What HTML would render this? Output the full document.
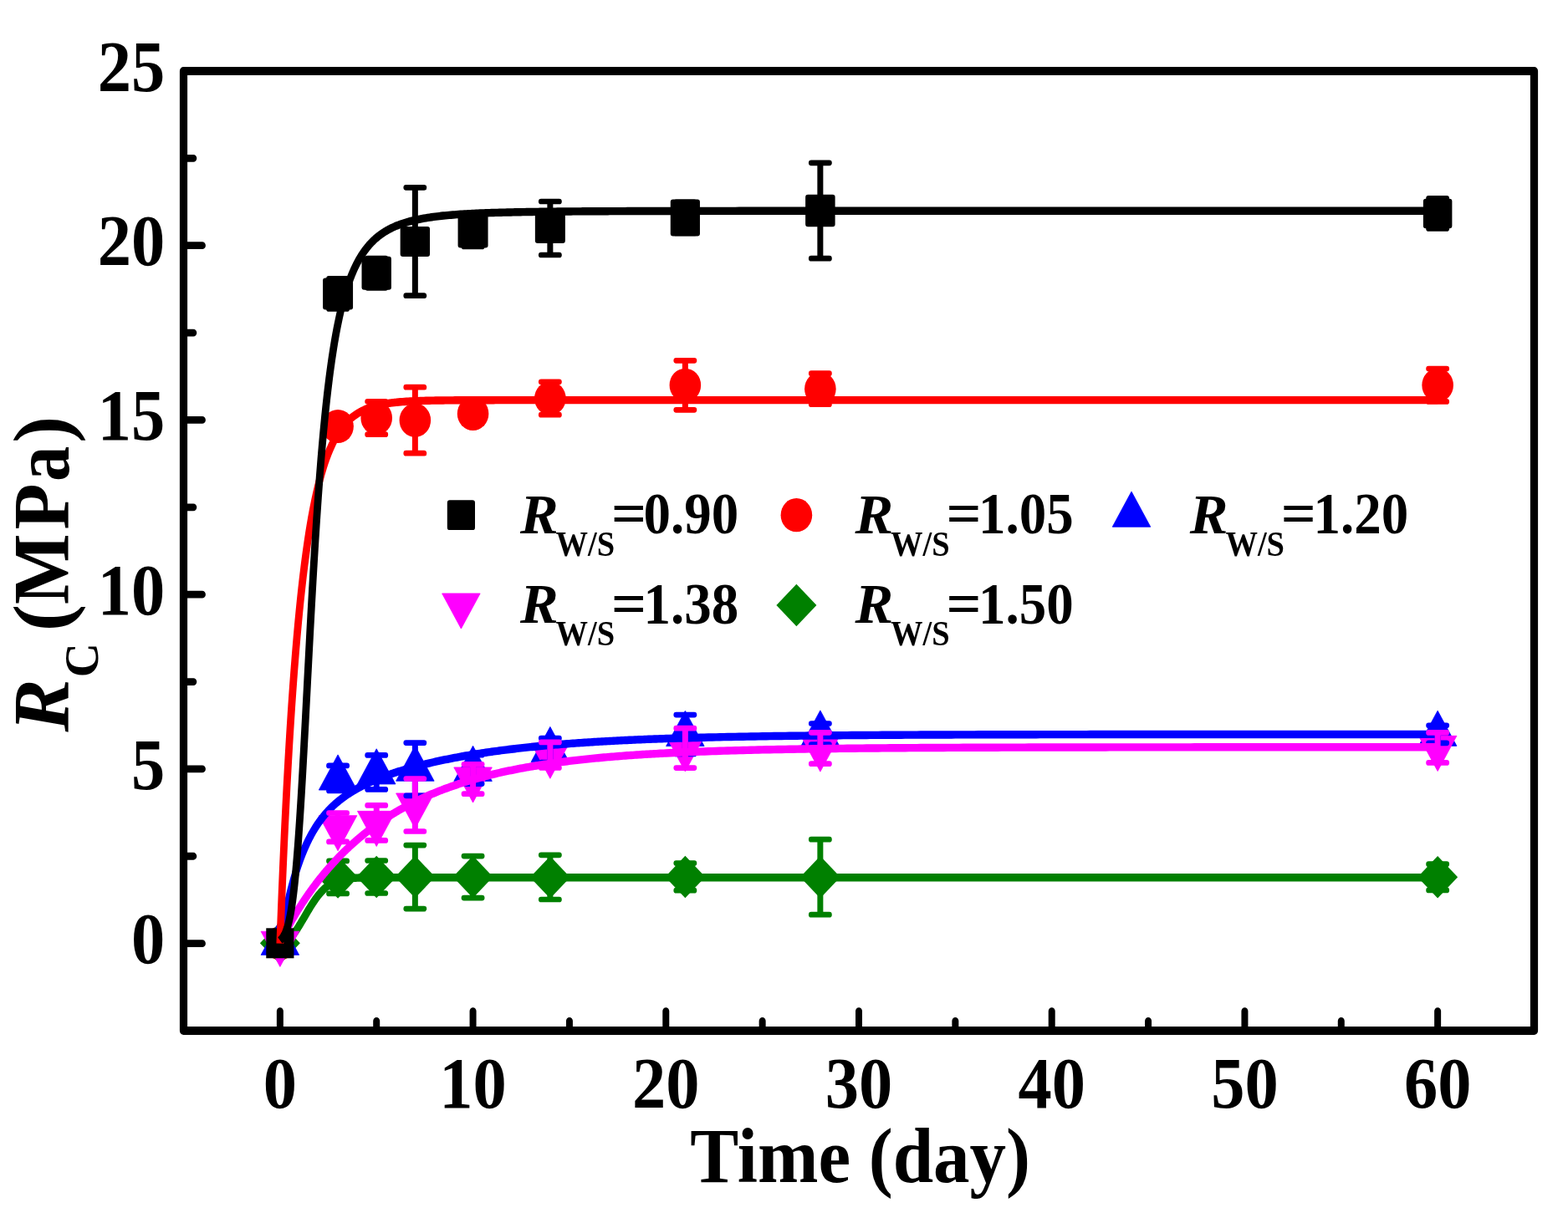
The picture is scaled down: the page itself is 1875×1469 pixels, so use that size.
<!DOCTYPE html>
<html><head><meta charset="utf-8"><title>RC vs Time</title>
<style>html,body{margin:0;padding:0;background:#fff;}svg{display:block;}</style></head>
<body>
<svg width="1875" height="1469" viewBox="0 0 1875 1469">
<rect width="1875" height="1469" fill="#fff"/>
<g transform="scale(1,1.07)">
<rect x="219.5" y="79.44" width="1615.0" height="1072.90" fill="none" stroke="#000" stroke-width="9.2" stroke-linejoin="round"/>
<path d="M334.86,1152.34V1130.37M565.57,1152.34V1130.37M796.28,1152.34V1130.37M1027.00,1152.34V1130.37M1257.71,1152.34V1130.37M1488.43,1152.34V1130.37M1719.14,1152.34V1130.37M450.21,1152.34V1141.40M680.93,1152.34V1141.40M911.64,1152.34V1141.40M1142.36,1152.34V1141.40M1373.07,1152.34V1141.40M1603.78,1152.34V1141.40" stroke="#000" stroke-width="8" stroke-linecap="round" fill="none"/>
<path d="M219.5,1054.79H241.8M219.5,859.72H241.8M219.5,664.65H241.8M219.5,469.58H241.8M219.5,274.51H241.8M219.5,957.25H231.2M219.5,762.18H231.2M219.5,567.11H231.2M219.5,372.04H231.2M219.5,176.97H231.2" stroke="#000" stroke-width="8.2" stroke-linecap="round" fill="none"/>

<path d="M404.07,465.42V487.85" stroke="#ff0000" stroke-width="7" fill="none"/><path d="M393.27,465.42H414.87M393.27,487.85H414.87" stroke="#ff0000" stroke-width="6.3" stroke-linecap="round" fill="none"/>
<path d="M450.21,448.88V485.70" stroke="#ff0000" stroke-width="7" fill="none"/><path d="M439.41,448.88H461.01M439.41,485.70H461.01" stroke="#ff0000" stroke-width="6.3" stroke-linecap="round" fill="none"/>
<path d="M496.36,432.90V506.73" stroke="#ff0000" stroke-width="7" fill="none"/><path d="M485.56,432.90H507.16M485.56,506.73H507.16" stroke="#ff0000" stroke-width="6.3" stroke-linecap="round" fill="none"/>
<path d="M565.57,451.31V473.74" stroke="#ff0000" stroke-width="7" fill="none"/><path d="M554.77,451.31H576.37M554.77,473.74H576.37" stroke="#ff0000" stroke-width="6.3" stroke-linecap="round" fill="none"/>
<path d="M657.86,426.92V463.74" stroke="#ff0000" stroke-width="7" fill="none"/><path d="M647.06,426.92H668.66M647.06,463.74H668.66" stroke="#ff0000" stroke-width="6.3" stroke-linecap="round" fill="none"/>
<path d="M819.36,403.08V458.22" stroke="#ff0000" stroke-width="7" fill="none"/><path d="M808.56,403.08H830.16M808.56,458.22H830.16" stroke="#ff0000" stroke-width="6.3" stroke-linecap="round" fill="none"/>
<path d="M980.86,417.48V452.06" stroke="#ff0000" stroke-width="7" fill="none"/><path d="M970.06,417.48H991.66M970.06,452.06H991.66" stroke="#ff0000" stroke-width="6.3" stroke-linecap="round" fill="none"/>
<path d="M1719.14,412.15V448.97" stroke="#ff0000" stroke-width="7" fill="none"/><path d="M1708.34,412.15H1729.94M1708.34,448.97H1729.94" stroke="#ff0000" stroke-width="6.3" stroke-linecap="round" fill="none"/>
<circle cx="334.86" cy="1054.49" r="18.8" fill="#ff0000"/>
<circle cx="404.07" cy="476.64" r="18.8" fill="#ff0000"/>
<circle cx="450.21" cy="467.29" r="18.8" fill="#ff0000"/>
<circle cx="496.36" cy="469.81" r="18.8" fill="#ff0000"/>
<circle cx="565.57" cy="462.52" r="18.8" fill="#ff0000"/>
<circle cx="657.86" cy="445.33" r="18.8" fill="#ff0000"/>
<circle cx="819.36" cy="430.65" r="18.8" fill="#ff0000"/>
<circle cx="980.86" cy="434.77" r="18.8" fill="#ff0000"/>
<circle cx="1719.14" cy="430.56" r="18.8" fill="#ff0000"/>

<path d="M404.07,962.52V998.97" stroke="#008000" stroke-width="7" fill="none"/><path d="M393.27,962.52H414.87M393.27,998.97H414.87" stroke="#008000" stroke-width="6.3" stroke-linecap="round" fill="none"/>
<path d="M450.21,962.15V998.60" stroke="#008000" stroke-width="7" fill="none"/><path d="M439.41,962.15H461.01M439.41,998.60H461.01" stroke="#008000" stroke-width="6.3" stroke-linecap="round" fill="none"/>
<path d="M496.36,944.95V1015.98" stroke="#008000" stroke-width="7" fill="none"/><path d="M485.56,944.95H507.16M485.56,1015.98H507.16" stroke="#008000" stroke-width="6.3" stroke-linecap="round" fill="none"/>
<path d="M565.57,957.10V1003.83" stroke="#008000" stroke-width="7" fill="none"/><path d="M554.77,957.10H576.37M554.77,1003.83H576.37" stroke="#008000" stroke-width="6.3" stroke-linecap="round" fill="none"/>
<path d="M657.86,955.89V1005.61" stroke="#008000" stroke-width="7" fill="none"/><path d="M647.06,955.89H668.66M647.06,1005.61H668.66" stroke="#008000" stroke-width="6.3" stroke-linecap="round" fill="none"/>
<path d="M819.36,965.05V995.51" stroke="#008000" stroke-width="7" fill="none"/><path d="M808.56,965.05H830.16M808.56,995.51H830.16" stroke="#008000" stroke-width="6.3" stroke-linecap="round" fill="none"/>
<path d="M980.86,938.50V1022.62" stroke="#008000" stroke-width="7" fill="none"/><path d="M970.06,938.50H991.66M970.06,1022.62H991.66" stroke="#008000" stroke-width="6.3" stroke-linecap="round" fill="none"/>
<path d="M1719.14,966.07V995.23" stroke="#008000" stroke-width="7" fill="none"/><path d="M1708.34,966.07H1729.94M1708.34,995.23H1729.94" stroke="#008000" stroke-width="6.3" stroke-linecap="round" fill="none"/>
<polygon points="334.86,1030.89 358.86,1054.49 334.86,1078.09 310.86,1054.49" fill="#008000"/>
<polygon points="404.07,957.15 428.07,980.75 404.07,1004.35 380.07,980.75" fill="#008000"/>
<polygon points="450.21,956.77 474.21,980.37 450.21,1003.97 426.21,980.37" fill="#008000"/>
<polygon points="496.36,956.87 520.36,980.47 496.36,1004.07 472.36,980.47" fill="#008000"/>
<polygon points="565.57,956.87 589.57,980.47 565.57,1004.07 541.57,980.47" fill="#008000"/>
<polygon points="657.86,957.15 681.86,980.75 657.86,1004.35 633.86,980.75" fill="#008000"/>
<polygon points="819.36,956.68 843.36,980.28 819.36,1003.88 795.36,980.28" fill="#008000"/>
<polygon points="980.86,956.96 1004.86,980.56 980.86,1004.16 956.86,980.56" fill="#008000"/>
<polygon points="1719.14,957.05 1743.14,980.65 1719.14,1004.25 1695.14,980.65" fill="#008000"/>
<polyline points="334.86,1054.79 335.43,1054.78 336.01,1054.74 336.59,1054.68 337.16,1054.59 337.74,1054.47 338.32,1054.32 338.89,1054.15 339.47,1053.95 340.05,1053.72 340.62,1053.46 341.20,1053.18 341.78,1052.86 342.36,1052.52 342.93,1052.16 343.51,1051.76 344.09,1051.34 344.66,1050.89 345.24,1050.42 345.82,1049.92 346.39,1049.40 346.97,1048.85 347.55,1048.28 348.12,1047.68 348.70,1047.06 349.28,1046.42 349.85,1045.76 350.43,1045.08 351.01,1044.38 351.58,1043.66 352.16,1042.92 352.74,1042.17 353.31,1041.40 353.89,1040.61 354.47,1039.81 355.04,1038.99 355.62,1038.16 356.20,1037.32 356.77,1036.46 357.35,1035.60 357.93,1034.72 358.51,1033.84 359.08,1032.94 359.66,1032.04 360.24,1031.14 360.81,1030.23 361.39,1029.31 361.97,1028.39 362.54,1027.47 363.12,1026.55 363.70,1025.62 364.27,1024.69 364.85,1023.77 365.43,1022.84 366.00,1021.92 366.58,1021.00 367.16,1020.08 367.73,1019.17 368.31,1018.26 368.89,1017.36 369.46,1016.46 370.04,1015.58 370.62,1014.69 371.19,1013.82 371.77,1012.95 372.35,1012.10 372.92,1011.25 373.50,1010.41 374.08,1009.58 374.66,1008.77 375.23,1007.96 375.81,1007.17 376.39,1006.39 376.96,1005.62 377.54,1004.86 378.12,1004.12 378.69,1003.39 379.27,1002.67 379.85,1001.97 380.42,1001.28 381.00,1000.61 381.58,999.95 382.15,999.30 382.73,998.67 383.31,998.05 383.88,997.44 384.46,996.85 385.04,996.28 385.61,995.72 386.19,995.17 386.77,994.64 387.34,994.12 387.92,993.62 388.50,993.13 389.07,992.65 389.65,992.19 390.23,991.74 390.81,991.30 391.38,990.88 391.96,990.47 392.54,990.08 393.11,989.70 393.69,989.32 394.27,988.97 394.84,988.62 395.42,988.29 396.00,987.97 396.57,987.66 397.15,987.36 397.73,987.07 398.30,986.79 398.88,986.52 399.46,986.27 400.03,986.02 400.61,985.78 401.19,985.56 401.76,985.34 402.34,985.13 402.92,984.93 403.49,984.73 404.07,984.55 404.65,984.37 405.22,984.21 405.80,984.04 406.38,983.89 406.96,983.74 407.53,983.60 408.11,983.47 408.69,983.34 409.26,983.22 409.84,983.10 410.42,982.99 410.99,982.89 411.57,982.79 412.15,982.70 412.72,982.61 413.30,982.52 413.88,982.44 414.45,982.36 415.03,982.29 415.61,982.22 416.18,982.15 416.76,982.09 417.34,982.03 417.91,981.98 418.49,981.93 419.07,981.88 419.64,981.83 420.22,981.79 420.80,981.75 421.37,981.71 421.95,981.67 422.53,981.64 423.11,981.60 423.68,981.57 424.26,981.54 424.84,981.52 425.41,981.49 425.99,981.47 426.57,981.45 427.14,981.42 427.72,981.41 428.30,981.39 428.87,981.37 429.45,981.35 430.03,981.34 430.60,981.32 431.18,981.31 431.76,981.30 432.33,981.29 432.91,981.28 433.49,981.27 434.06,981.26 434.64,981.25 435.22,981.24 435.79,981.23 436.37,981.23 436.95,981.22 437.52,981.21 438.10,981.21 438.68,981.20 439.26,981.20 439.83,981.19 440.41,981.19 440.99,981.19 441.56,981.18 442.14,981.18 442.72,981.18 443.29,981.17 443.87,981.17 444.45,981.17 445.02,981.17 445.60,981.17 446.18,981.16 446.75,981.16 447.33,981.16 447.91,981.16 448.48,981.16 449.06,981.16 449.64,981.15 450.21,981.15 450.79,981.15 451.37,981.15 451.94,981.15 452.52,981.15 453.10,981.15 453.67,981.15 454.25,981.15 454.83,981.15 455.41,981.15 455.98,981.15 456.56,981.15 457.14,981.15 457.71,981.15 458.29,981.15 458.87,981.15 459.44,981.15 460.02,981.15 460.60,981.14 461.17,981.14 461.75,981.14 462.33,981.14 462.90,981.14 463.48,981.14 464.06,981.14 464.63,981.14 465.21,981.14 465.79,981.14 466.36,981.14 466.94,981.14 467.52,981.14 468.09,981.14 468.67,981.14 469.25,981.14 469.82,981.14 470.40,981.14 470.98,981.14 471.56,981.14 472.13,981.14 472.71,981.14 473.29,981.14 474.44,981.14 476.75,981.14 479.07,981.14 481.39,981.14 483.70,981.14 486.02,981.14 488.33,981.14 490.65,981.14 492.96,981.14 495.28,981.14 497.59,981.14 499.91,981.14 502.22,981.14 504.54,981.14 506.86,981.14 509.17,981.14 511.49,981.14 513.80,981.14 516.12,981.14 518.43,981.14 520.75,981.14 523.06,981.14 525.38,981.14 527.69,981.14 530.01,981.14 532.32,981.14 534.64,981.14 536.96,981.14 539.27,981.14 541.59,981.14 543.90,981.14 546.22,981.14 548.53,981.14 550.85,981.14 553.16,981.14 555.48,981.14 557.79,981.14 560.11,981.14 562.43,981.14 564.74,981.14 567.06,981.14 569.37,981.14 571.69,981.14 574.00,981.14 576.32,981.14 578.63,981.14 580.95,981.14 583.26,981.14 585.58,981.14 587.90,981.14 590.21,981.14 592.53,981.14 594.84,981.14 597.16,981.14 599.47,981.14 601.79,981.14 604.10,981.14 606.42,981.14 608.73,981.14 611.05,981.14 613.37,981.14 615.68,981.14 618.00,981.14 620.31,981.14 622.63,981.14 624.94,981.14 627.26,981.14 629.57,981.14 631.89,981.14 634.20,981.14 636.52,981.14 638.84,981.14 641.15,981.14 643.47,981.14 645.78,981.14 648.10,981.14 650.41,981.14 652.73,981.14 655.04,981.14 657.36,981.14 659.67,981.14 661.99,981.14 664.30,981.14 666.62,981.14 668.94,981.14 671.25,981.14 673.57,981.14 675.88,981.14 678.20,981.14 680.51,981.14 682.83,981.14 685.14,981.14 687.46,981.14 689.77,981.14 692.09,981.14 694.41,981.14 696.72,981.14 699.04,981.14 701.35,981.14 703.67,981.14 705.98,981.14 708.30,981.14 710.61,981.14 712.93,981.14 715.24,981.14 717.56,981.14 719.88,981.14 722.19,981.14 724.51,981.14 726.82,981.14 729.14,981.14 731.45,981.14 733.77,981.14 736.08,981.14 738.40,981.14 740.71,981.14 743.03,981.14 745.35,981.14 747.66,981.14 749.98,981.14 752.29,981.14 754.61,981.14 756.92,981.14 759.24,981.14 761.55,981.14 763.87,981.14 766.18,981.14 768.50,981.14 770.82,981.14 773.13,981.14 775.45,981.14 777.76,981.14 780.08,981.14 782.39,981.14 784.71,981.14 787.02,981.14 789.34,981.14 791.65,981.14 793.97,981.14 796.28,981.14 800.90,981.14 805.51,981.14 810.13,981.14 814.74,981.14 819.36,981.14 823.97,981.14 828.58,981.14 833.20,981.14 837.81,981.14 842.43,981.14 847.04,981.14 851.66,981.14 856.27,981.14 860.88,981.14 865.50,981.14 870.11,981.14 874.73,981.14 879.34,981.14 883.96,981.14 888.57,981.14 893.18,981.14 897.80,981.14 902.41,981.14 907.03,981.14 911.64,981.14 916.26,981.14 920.87,981.14 925.48,981.14 930.10,981.14 934.71,981.14 939.33,981.14 943.94,981.14 948.56,981.14 953.17,981.14 957.78,981.14 962.40,981.14 967.01,981.14 971.63,981.14 976.24,981.14 980.86,981.14 985.47,981.14 990.08,981.14 994.70,981.14 999.31,981.14 1003.93,981.14 1008.54,981.14 1013.16,981.14 1017.77,981.14 1022.38,981.14 1027.00,981.14 1031.61,981.14 1036.23,981.14 1040.84,981.14 1045.46,981.14 1050.07,981.14 1054.68,981.14 1059.30,981.14 1063.91,981.14 1068.53,981.14 1073.14,981.14 1077.76,981.14 1082.37,981.14 1086.98,981.14 1091.60,981.14 1096.21,981.14 1100.83,981.14 1105.44,981.14 1110.06,981.14 1114.67,981.14 1119.28,981.14 1123.90,981.14 1128.51,981.14 1133.13,981.14 1137.74,981.14 1142.36,981.14 1146.97,981.14 1151.58,981.14 1156.20,981.14 1160.81,981.14 1165.43,981.14 1170.04,981.14 1174.66,981.14 1179.27,981.14 1183.88,981.14 1188.50,981.14 1193.11,981.14 1197.73,981.14 1202.34,981.14 1206.96,981.14 1211.57,981.14 1216.18,981.14 1220.80,981.14 1225.41,981.14 1230.03,981.14 1234.64,981.14 1239.26,981.14 1243.87,981.14 1248.48,981.14 1253.10,981.14 1257.71,981.14 1262.33,981.14 1266.94,981.14 1271.56,981.14 1276.17,981.14 1280.78,981.14 1285.40,981.14 1290.01,981.14 1294.63,981.14 1299.24,981.14 1303.86,981.14 1308.47,981.14 1313.08,981.14 1317.70,981.14 1322.31,981.14 1326.93,981.14 1331.54,981.14 1336.16,981.14 1340.77,981.14 1345.38,981.14 1350.00,981.14 1354.61,981.14 1359.23,981.14 1363.84,981.14 1368.46,981.14 1373.07,981.14 1377.68,981.14 1382.30,981.14 1386.91,981.14 1391.53,981.14 1396.14,981.14 1400.76,981.14 1405.37,981.14 1409.98,981.14 1414.60,981.14 1419.21,981.14 1423.83,981.14 1428.44,981.14 1433.06,981.14 1437.67,981.14 1442.28,981.14 1446.90,981.14 1451.51,981.14 1456.13,981.14 1460.74,981.14 1465.36,981.14 1469.97,981.14 1474.58,981.14 1479.20,981.14 1483.81,981.14 1488.43,981.14 1493.04,981.14 1497.66,981.14 1502.27,981.14 1506.88,981.14 1511.50,981.14 1516.11,981.14 1520.73,981.14 1525.34,981.14 1529.96,981.14 1534.57,981.14 1539.18,981.14 1543.80,981.14 1548.41,981.14 1553.03,981.14 1557.64,981.14 1562.26,981.14 1566.87,981.14 1571.48,981.14 1576.10,981.14 1580.71,981.14 1585.33,981.14 1589.94,981.14 1594.56,981.14 1599.17,981.14 1603.78,981.14 1608.40,981.14 1613.01,981.14 1617.63,981.14 1622.24,981.14 1626.86,981.14 1631.47,981.14 1636.08,981.14 1640.70,981.14 1645.31,981.14 1649.93,981.14 1654.54,981.14 1659.16,981.14 1663.77,981.14 1668.38,981.14 1673.00,981.14 1677.61,981.14 1682.23,981.14 1686.84,981.14 1691.46,981.14 1696.07,981.14 1700.68,981.14 1705.30,981.14 1709.91,981.14 1714.53,981.14 1719.14,981.14" fill="none" stroke="#008000" stroke-width="8.8" stroke-linejoin="round" stroke-linecap="butt"/>
<polygon points="334.86,1028.22 357.61,1067.62 312.11,1067.62" fill="#0000ff" stroke="#0000ff" stroke-width="0.8" stroke-linejoin="round"/>
<polygon points="404.07,843.82 426.82,883.23 381.32,883.23" fill="#0000ff" stroke="#0000ff" stroke-width="0.8" stroke-linejoin="round"/>
<polygon points="450.21,837.19 472.96,876.59 427.46,876.59" fill="#0000ff" stroke="#0000ff" stroke-width="0.8" stroke-linejoin="round"/>
<polygon points="496.36,833.73 519.11,873.13 473.61,873.13" fill="#0000ff" stroke="#0000ff" stroke-width="0.8" stroke-linejoin="round"/>
<polygon points="565.57,833.92 588.32,873.32 542.82,873.32" fill="#0000ff" stroke="#0000ff" stroke-width="0.8" stroke-linejoin="round"/>
<polygon points="657.86,812.52 680.61,851.92 635.11,851.92" fill="#0000ff" stroke="#0000ff" stroke-width="0.8" stroke-linejoin="round"/>
<polygon points="819.36,794.76 842.11,834.16 796.61,834.16" fill="#0000ff" stroke="#0000ff" stroke-width="0.8" stroke-linejoin="round"/>
<polygon points="980.86,794.29 1003.61,833.70 958.11,833.70" fill="#0000ff" stroke="#0000ff" stroke-width="0.8" stroke-linejoin="round"/>
<polygon points="1719.14,794.57 1741.89,833.98 1696.39,833.98" fill="#0000ff" stroke="#0000ff" stroke-width="0.8" stroke-linejoin="round"/>
<polygon points="334.86,1080.76 357.61,1041.35 312.11,1041.35" fill="#ff00ff" stroke="#ff00ff" stroke-width="0.8" stroke-linejoin="round"/>
<polygon points="404.07,951.22 426.82,911.82 381.32,911.82" fill="#ff00ff" stroke="#ff00ff" stroke-width="0.8" stroke-linejoin="round"/>
<polygon points="450.21,946.27 472.96,906.87 427.46,906.87" fill="#ff00ff" stroke="#ff00ff" stroke-width="0.8" stroke-linejoin="round"/>
<polygon points="496.36,926.27 519.11,886.87 473.61,886.87" fill="#ff00ff" stroke="#ff00ff" stroke-width="0.8" stroke-linejoin="round"/>
<polygon points="565.57,897.30 588.32,857.89 542.82,857.89" fill="#ff00ff" stroke="#ff00ff" stroke-width="0.8" stroke-linejoin="round"/>
<polygon points="657.86,870.38 680.61,830.98 635.11,830.98" fill="#ff00ff" stroke="#ff00ff" stroke-width="0.8" stroke-linejoin="round"/>
<polygon points="819.36,862.62 842.11,823.22 796.61,823.22" fill="#ff00ff" stroke="#ff00ff" stroke-width="0.8" stroke-linejoin="round"/>
<polygon points="980.86,862.72 1003.61,823.31 958.11,823.31" fill="#ff00ff" stroke="#ff00ff" stroke-width="0.8" stroke-linejoin="round"/>
<polygon points="1719.14,862.16 1741.89,822.75 1696.39,822.75" fill="#ff00ff" stroke="#ff00ff" stroke-width="0.8" stroke-linejoin="round"/>
<polyline points="334.86,1054.79 335.43,1051.52 336.01,1048.32 336.59,1045.18 337.16,1042.11 337.74,1039.09 338.32,1036.14 338.89,1033.24 339.47,1030.41 340.05,1027.62 340.62,1024.90 341.20,1022.23 341.78,1019.60 342.36,1017.04 342.93,1014.52 343.51,1012.05 344.09,1009.63 344.66,1007.25 345.24,1004.93 345.82,1002.64 346.39,1000.41 346.97,998.21 347.55,996.06 348.12,993.94 348.70,991.87 349.28,989.84 349.85,987.85 350.43,985.89 351.01,983.97 351.58,982.09 352.16,980.24 352.74,978.43 353.31,976.65 353.89,974.90 354.47,973.19 355.04,971.51 355.62,969.86 356.20,968.24 356.77,966.65 357.35,965.09 357.93,963.55 358.51,962.05 359.08,960.57 359.66,959.12 360.24,957.69 360.81,956.29 361.39,954.92 361.97,953.57 362.54,952.24 363.12,950.94 363.70,949.66 364.27,948.40 364.85,947.16 365.43,945.95 366.00,944.75 366.58,943.58 367.16,942.43 367.73,941.30 368.31,940.18 368.89,939.09 369.46,938.01 370.04,936.95 370.62,935.91 371.19,934.89 371.77,933.88 372.35,932.89 372.92,931.92 373.50,930.96 374.08,930.02 374.66,929.09 375.23,928.18 375.81,927.28 376.39,926.40 376.96,925.53 377.54,924.67 378.12,923.83 378.69,923.00 379.27,922.18 379.85,921.38 380.42,920.59 381.00,919.81 381.58,919.04 382.15,918.29 382.73,917.54 383.31,916.81 383.88,916.09 384.46,915.38 385.04,914.68 385.61,913.98 386.19,913.30 386.77,912.63 387.34,911.97 387.92,911.32 388.50,910.68 389.07,910.04 389.65,909.42 390.23,908.80 390.81,908.20 391.38,907.60 391.96,907.01 392.54,906.42 393.11,905.85 393.69,905.28 394.27,904.72 394.84,904.17 395.42,903.62 396.00,903.09 396.57,902.55 397.15,902.03 397.73,901.51 398.30,901.00 398.88,900.50 399.46,900.00 400.03,899.51 400.61,899.02 401.19,898.54 401.76,898.07 402.34,897.60 402.92,897.14 403.49,896.68 404.07,896.23 404.65,895.78 405.22,895.34 405.80,894.90 406.38,894.47 406.96,894.05 407.53,893.63 408.11,893.21 408.69,892.80 409.26,892.39 409.84,891.99 410.42,891.59 410.99,891.20 411.57,890.81 412.15,890.42 412.72,890.04 413.30,889.66 413.88,889.29 414.45,888.92 415.03,888.55 415.61,888.19 416.18,887.83 416.76,887.48 417.34,887.12 417.91,886.78 418.49,886.43 419.07,886.09 419.64,885.75 420.22,885.42 420.80,885.09 421.37,884.76 421.95,884.43 422.53,884.11 423.11,883.79 423.68,883.47 424.26,883.16 424.84,882.85 425.41,882.54 425.99,882.24 426.57,881.93 427.14,881.63 427.72,881.34 428.30,881.04 428.87,880.75 429.45,880.46 430.03,880.17 430.60,879.89 431.18,879.61 431.76,879.32 432.33,879.05 432.91,878.77 433.49,878.50 434.06,878.23 434.64,877.96 435.22,877.69 435.79,877.43 436.37,877.16 436.95,876.90 437.52,876.64 438.10,876.39 438.68,876.13 439.26,875.88 439.83,875.63 440.41,875.38 440.99,875.13 441.56,874.88 442.14,874.64 442.72,874.40 443.29,874.16 443.87,873.92 444.45,873.68 445.02,873.44 445.60,873.21 446.18,872.98 446.75,872.75 447.33,872.52 447.91,872.29 448.48,872.06 449.06,871.84 449.64,871.62 450.21,871.39 450.79,871.17 451.37,870.96 451.94,870.74 452.52,870.52 453.10,870.31 453.67,870.09 454.25,869.88 454.83,869.67 455.41,869.46 455.98,869.25 456.56,869.05 457.14,868.84 457.71,868.64 458.29,868.43 458.87,868.23 459.44,868.03 460.02,867.83 460.60,867.63 461.17,867.44 461.75,867.24 462.33,867.04 462.90,866.85 463.48,866.66 464.06,866.47 464.63,866.28 465.21,866.09 465.79,865.90 466.36,865.71 466.94,865.52 467.52,865.34 468.09,865.15 468.67,864.97 469.25,864.79 469.82,864.61 470.40,864.43 470.98,864.25 471.56,864.07 472.13,863.89 472.71,863.71 473.29,863.54 474.44,863.19 476.75,862.50 479.07,861.82 481.39,861.16 483.70,860.51 486.02,859.88 488.33,859.25 490.65,858.64 492.96,858.04 495.28,857.45 497.59,856.87 499.91,856.30 502.22,855.74 504.54,855.19 506.86,854.65 509.17,854.12 511.49,853.60 513.80,853.09 516.12,852.58 518.43,852.09 520.75,851.60 523.06,851.12 525.38,850.65 527.69,850.19 530.01,849.73 532.32,849.28 534.64,848.84 536.96,848.41 539.27,847.98 541.59,847.56 543.90,847.15 546.22,846.74 548.53,846.34 550.85,845.95 553.16,845.56 555.48,845.18 557.79,844.80 560.11,844.43 562.43,844.07 564.74,843.71 567.06,843.36 569.37,843.01 571.69,842.67 574.00,842.34 576.32,842.00 578.63,841.68 580.95,841.36 583.26,841.04 585.58,840.73 587.90,840.43 590.21,840.13 592.53,839.83 594.84,839.54 597.16,839.25 599.47,838.97 601.79,838.69 604.10,838.42 606.42,838.15 608.73,837.88 611.05,837.62 613.37,837.36 615.68,837.11 618.00,836.86 620.31,836.61 622.63,836.37 624.94,836.13 627.26,835.90 629.57,835.67 631.89,835.44 634.20,835.22 636.52,835.00 638.84,834.78 641.15,834.57 643.47,834.36 645.78,834.15 648.10,833.95 650.41,833.74 652.73,833.55 655.04,833.35 657.36,833.16 659.67,832.97 661.99,832.79 664.30,832.60 666.62,832.42 668.94,832.25 671.25,832.07 673.57,831.90 675.88,831.73 678.20,831.57 680.51,831.40 682.83,831.24 685.14,831.08 687.46,830.93 689.77,830.77 692.09,830.62 694.41,830.47 696.72,830.32 699.04,830.18 701.35,830.04 703.67,829.90 705.98,829.76 708.30,829.62 710.61,829.49 712.93,829.36 715.24,829.23 717.56,829.10 719.88,828.97 722.19,828.85 724.51,828.73 726.82,828.61 729.14,828.49 731.45,828.37 733.77,828.26 736.08,828.15 738.40,828.03 740.71,827.92 743.03,827.82 745.35,827.71 747.66,827.61 749.98,827.50 752.29,827.40 754.61,827.30 756.92,827.20 759.24,827.11 761.55,827.01 763.87,826.92 766.18,826.83 768.50,826.74 770.82,826.65 773.13,826.56 775.45,826.47 777.76,826.39 780.08,826.30 782.39,826.22 784.71,826.14 787.02,826.06 789.34,825.98 791.65,825.90 793.97,825.83 796.28,825.75 800.90,825.60 805.51,825.46 810.13,825.32 814.74,825.19 819.36,825.06 823.97,824.94 828.58,824.81 833.20,824.70 837.81,824.58 842.43,824.47 847.04,824.36 851.66,824.26 856.27,824.16 860.88,824.06 865.50,823.96 870.11,823.87 874.73,823.78 879.34,823.70 883.96,823.61 888.57,823.53 893.18,823.45 897.80,823.38 902.41,823.30 907.03,823.23 911.64,823.16 916.26,823.09 920.87,823.03 925.48,822.96 930.10,822.90 934.71,822.84 939.33,822.78 943.94,822.73 948.56,822.67 953.17,822.62 957.78,822.57 962.40,822.52 967.01,822.47 971.63,822.42 976.24,822.38 980.86,822.34 985.47,822.29 990.08,822.25 994.70,822.21 999.31,822.17 1003.93,822.14 1008.54,822.10 1013.16,822.06 1017.77,822.03 1022.38,822.00 1027.00,821.96 1031.61,821.93 1036.23,821.90 1040.84,821.87 1045.46,821.85 1050.07,821.82 1054.68,821.79 1059.30,821.77 1063.91,821.74 1068.53,821.72 1073.14,821.69 1077.76,821.67 1082.37,821.65 1086.98,821.63 1091.60,821.61 1096.21,821.59 1100.83,821.57 1105.44,821.55 1110.06,821.53 1114.67,821.51 1119.28,821.49 1123.90,821.48 1128.51,821.46 1133.13,821.44 1137.74,821.43 1142.36,821.41 1146.97,821.40 1151.58,821.39 1156.20,821.37 1160.81,821.36 1165.43,821.35 1170.04,821.33 1174.66,821.32 1179.27,821.31 1183.88,821.30 1188.50,821.29 1193.11,821.28 1197.73,821.27 1202.34,821.26 1206.96,821.25 1211.57,821.24 1216.18,821.23 1220.80,821.22 1225.41,821.21 1230.03,821.20 1234.64,821.20 1239.26,821.19 1243.87,821.18 1248.48,821.17 1253.10,821.17 1257.71,821.16 1262.33,821.15 1266.94,821.15 1271.56,821.14 1276.17,821.14 1280.78,821.13 1285.40,821.12 1290.01,821.12 1294.63,821.11 1299.24,821.11 1303.86,821.10 1308.47,821.10 1313.08,821.09 1317.70,821.09 1322.31,821.08 1326.93,821.08 1331.54,821.08 1336.16,821.07 1340.77,821.07 1345.38,821.06 1350.00,821.06 1354.61,821.06 1359.23,821.05 1363.84,821.05 1368.46,821.05 1373.07,821.04 1377.68,821.04 1382.30,821.04 1386.91,821.03 1391.53,821.03 1396.14,821.03 1400.76,821.03 1405.37,821.02 1409.98,821.02 1414.60,821.02 1419.21,821.02 1423.83,821.01 1428.44,821.01 1433.06,821.01 1437.67,821.01 1442.28,821.01 1446.90,821.00 1451.51,821.00 1456.13,821.00 1460.74,821.00 1465.36,821.00 1469.97,821.00 1474.58,820.99 1479.20,820.99 1483.81,820.99 1488.43,820.99 1493.04,820.99 1497.66,820.99 1502.27,820.99 1506.88,820.98 1511.50,820.98 1516.11,820.98 1520.73,820.98 1525.34,820.98 1529.96,820.98 1534.57,820.98 1539.18,820.98 1543.80,820.98 1548.41,820.97 1553.03,820.97 1557.64,820.97 1562.26,820.97 1566.87,820.97 1571.48,820.97 1576.10,820.97 1580.71,820.97 1585.33,820.97 1589.94,820.97 1594.56,820.97 1599.17,820.97 1603.78,820.96 1608.40,820.96 1613.01,820.96 1617.63,820.96 1622.24,820.96 1626.86,820.96 1631.47,820.96 1636.08,820.96 1640.70,820.96 1645.31,820.96 1649.93,820.96 1654.54,820.96 1659.16,820.96 1663.77,820.96 1668.38,820.96 1673.00,820.96 1677.61,820.96 1682.23,820.96 1686.84,820.96 1691.46,820.96 1696.07,820.96 1700.68,820.95 1705.30,820.95 1709.91,820.95 1714.53,820.95 1719.14,820.95" fill="none" stroke="#0000ff" stroke-width="8.8" stroke-linejoin="round" stroke-linecap="butt"/>

<path d="M404.07,856.07V884.11" stroke="#0000ff" stroke-width="7" fill="none"/><path d="M393.27,856.07H414.87M393.27,884.11H414.87" stroke="#0000ff" stroke-width="6.3" stroke-linecap="round" fill="none"/>
<path d="M450.21,844.30V882.62" stroke="#0000ff" stroke-width="7" fill="none"/><path d="M439.41,844.30H461.01M439.41,882.62H461.01" stroke="#0000ff" stroke-width="6.3" stroke-linecap="round" fill="none"/>
<path d="M496.36,830.47V889.53" stroke="#0000ff" stroke-width="7" fill="none"/><path d="M485.56,830.47H507.16M485.56,889.53H507.16" stroke="#0000ff" stroke-width="6.3" stroke-linecap="round" fill="none"/>
<path d="M565.57,844.11V876.26" stroke="#0000ff" stroke-width="7" fill="none"/><path d="M554.77,844.11H576.37M554.77,876.26H576.37" stroke="#0000ff" stroke-width="6.3" stroke-linecap="round" fill="none"/>
<path d="M657.86,825.23V852.34" stroke="#0000ff" stroke-width="7" fill="none"/><path d="M647.06,825.23H668.66M647.06,852.34H668.66" stroke="#0000ff" stroke-width="6.3" stroke-linecap="round" fill="none"/>
<path d="M819.36,799.07V842.99" stroke="#0000ff" stroke-width="7" fill="none"/><path d="M808.56,799.07H830.16M808.56,842.99H830.16" stroke="#0000ff" stroke-width="6.3" stroke-linecap="round" fill="none"/>
<path d="M980.86,808.88V832.24" stroke="#0000ff" stroke-width="7" fill="none"/><path d="M970.06,808.88H991.66M970.06,832.24H991.66" stroke="#0000ff" stroke-width="6.3" stroke-linecap="round" fill="none"/>
<path d="M1719.14,811.03V830.65" stroke="#0000ff" stroke-width="7" fill="none"/><path d="M1708.34,811.03H1729.94M1708.34,830.65H1729.94" stroke="#0000ff" stroke-width="6.3" stroke-linecap="round" fill="none"/>

<path d="M404.07,908.88V941.03" stroke="#ff00ff" stroke-width="7" fill="none"/><path d="M393.27,908.88H414.87M393.27,941.03H414.87" stroke="#ff00ff" stroke-width="6.3" stroke-linecap="round" fill="none"/>
<path d="M450.21,900.37V939.63" stroke="#ff00ff" stroke-width="7" fill="none"/><path d="M439.41,900.37H461.01M439.41,939.63H461.01" stroke="#ff00ff" stroke-width="6.3" stroke-linecap="round" fill="none"/>
<path d="M496.36,870.56V929.44" stroke="#ff00ff" stroke-width="7" fill="none"/><path d="M485.56,870.56H507.16M485.56,929.44H507.16" stroke="#ff00ff" stroke-width="6.3" stroke-linecap="round" fill="none"/>
<path d="M565.57,854.49V887.57" stroke="#ff00ff" stroke-width="7" fill="none"/><path d="M554.77,854.49H576.37M554.77,887.57H576.37" stroke="#ff00ff" stroke-width="6.3" stroke-linecap="round" fill="none"/>
<path d="M657.86,829.81V858.41" stroke="#ff00ff" stroke-width="7" fill="none"/><path d="M647.06,829.81H668.66M647.06,858.41H668.66" stroke="#ff00ff" stroke-width="6.3" stroke-linecap="round" fill="none"/>
<path d="M819.36,814.21V858.50" stroke="#ff00ff" stroke-width="7" fill="none"/><path d="M808.56,814.21H830.16M808.56,858.50H830.16" stroke="#ff00ff" stroke-width="6.3" stroke-linecap="round" fill="none"/>
<path d="M980.86,818.97V853.93" stroke="#ff00ff" stroke-width="7" fill="none"/><path d="M970.06,818.97H991.66M970.06,853.93H991.66" stroke="#ff00ff" stroke-width="6.3" stroke-linecap="round" fill="none"/>
<path d="M1719.14,819.07V852.71" stroke="#ff00ff" stroke-width="7" fill="none"/><path d="M1708.34,819.07H1729.94M1708.34,852.71H1729.94" stroke="#ff00ff" stroke-width="6.3" stroke-linecap="round" fill="none"/>
<polyline points="334.86,1054.79 335.43,1053.49 336.01,1052.27 336.59,1051.09 337.16,1049.94 337.74,1048.81 338.32,1047.69 338.89,1046.59 339.47,1045.50 340.05,1044.42 340.62,1043.36 341.20,1042.30 341.78,1041.26 342.36,1040.22 342.93,1039.19 343.51,1038.17 344.09,1037.16 344.66,1036.16 345.24,1035.16 345.82,1034.18 346.39,1033.20 346.97,1032.22 347.55,1031.26 348.12,1030.30 348.70,1029.35 349.28,1028.40 349.85,1027.46 350.43,1026.53 351.01,1025.60 351.58,1024.68 352.16,1023.76 352.74,1022.85 353.31,1021.95 353.89,1021.05 354.47,1020.16 355.04,1019.27 355.62,1018.39 356.20,1017.51 356.77,1016.64 357.35,1015.78 357.93,1014.92 358.51,1014.06 359.08,1013.21 359.66,1012.36 360.24,1011.52 360.81,1010.69 361.39,1009.86 361.97,1009.03 362.54,1008.21 363.12,1007.39 363.70,1006.58 364.27,1005.77 364.85,1004.97 365.43,1004.17 366.00,1003.38 366.58,1002.59 367.16,1001.81 367.73,1001.02 368.31,1000.25 368.89,999.48 369.46,998.71 370.04,997.94 370.62,997.18 371.19,996.43 371.77,995.68 372.35,994.93 372.92,994.19 373.50,993.45 374.08,992.71 374.66,991.98 375.23,991.25 375.81,990.53 376.39,989.81 376.96,989.09 377.54,988.38 378.12,987.67 378.69,986.97 379.27,986.27 379.85,985.57 380.42,984.88 381.00,984.19 381.58,983.50 382.15,982.82 382.73,982.14 383.31,981.46 383.88,980.79 384.46,980.12 385.04,979.45 385.61,978.79 386.19,978.13 386.77,977.48 387.34,976.82 387.92,976.18 388.50,975.53 389.07,974.89 389.65,974.25 390.23,973.61 390.81,972.98 391.38,972.35 391.96,971.73 392.54,971.10 393.11,970.48 393.69,969.87 394.27,969.25 394.84,968.64 395.42,968.03 396.00,967.43 396.57,966.83 397.15,966.23 397.73,965.64 398.30,965.04 398.88,964.45 399.46,963.87 400.03,963.28 400.61,962.70 401.19,962.12 401.76,961.55 402.34,960.98 402.92,960.41 403.49,959.84 404.07,959.28 404.65,958.72 405.22,958.16 405.80,957.60 406.38,957.05 406.96,956.50 407.53,955.95 408.11,955.41 408.69,954.86 409.26,954.33 409.84,953.79 410.42,953.25 410.99,952.72 411.57,952.19 412.15,951.67 412.72,951.14 413.30,950.62 413.88,950.10 414.45,949.59 415.03,949.07 415.61,948.56 416.18,948.05 416.76,947.55 417.34,947.04 417.91,946.54 418.49,946.04 419.07,945.54 419.64,945.05 420.22,944.56 420.80,944.07 421.37,943.58 421.95,943.10 422.53,942.61 423.11,942.13 423.68,941.66 424.26,941.18 424.84,940.71 425.41,940.23 425.99,939.77 426.57,939.30 427.14,938.83 427.72,938.37 428.30,937.91 428.87,937.45 429.45,937.00 430.03,936.55 430.60,936.09 431.18,935.64 431.76,935.20 432.33,934.75 432.91,934.31 433.49,933.87 434.06,933.43 434.64,932.99 435.22,932.56 435.79,932.13 436.37,931.70 436.95,931.27 437.52,930.84 438.10,930.42 438.68,929.99 439.26,929.57 439.83,929.15 440.41,928.74 440.99,928.32 441.56,927.91 442.14,927.50 442.72,927.09 443.29,926.68 443.87,926.28 444.45,925.88 445.02,925.47 445.60,925.08 446.18,924.68 446.75,924.28 447.33,923.89 447.91,923.50 448.48,923.11 449.06,922.72 449.64,922.33 450.21,921.95 450.79,921.56 451.37,921.18 451.94,920.80 452.52,920.43 453.10,920.05 453.67,919.68 454.25,919.30 454.83,918.93 455.41,918.56 455.98,918.20 456.56,917.83 457.14,917.47 457.71,917.11 458.29,916.74 458.87,916.39 459.44,916.03 460.02,915.67 460.60,915.32 461.17,914.97 461.75,914.62 462.33,914.27 462.90,913.92 463.48,913.57 464.06,913.23 464.63,912.89 465.21,912.55 465.79,912.21 466.36,911.87 466.94,911.53 467.52,911.20 468.09,910.87 468.67,910.53 469.25,910.20 469.82,909.87 470.40,909.55 470.98,909.22 471.56,908.90 472.13,908.58 472.71,908.25 473.29,907.93 474.44,907.30 476.75,906.04 479.07,904.81 481.39,903.60 483.70,902.41 486.02,901.24 488.33,900.09 490.65,898.96 492.96,897.86 495.28,896.77 497.59,895.70 499.91,894.66 502.22,893.63 504.54,892.62 506.86,891.63 509.17,890.65 511.49,889.70 513.80,888.76 516.12,887.83 518.43,886.93 520.75,886.04 523.06,885.16 525.38,884.30 527.69,883.46 530.01,882.63 532.32,881.82 534.64,881.02 536.96,880.23 539.27,879.46 541.59,878.70 543.90,877.96 546.22,877.23 548.53,876.51 550.85,875.80 553.16,875.11 555.48,874.43 557.79,873.76 560.11,873.10 562.43,872.46 564.74,871.82 567.06,871.20 569.37,870.58 571.69,869.98 574.00,869.39 576.32,868.81 578.63,868.24 580.95,867.68 583.26,867.13 585.58,866.59 587.90,866.05 590.21,865.53 592.53,865.02 594.84,864.51 597.16,864.02 599.47,863.53 601.79,863.05 604.10,862.58 606.42,862.12 608.73,861.66 611.05,861.22 613.37,860.78 615.68,860.35 618.00,859.92 620.31,859.51 622.63,859.10 624.94,858.70 627.26,858.30 629.57,857.91 631.89,857.53 634.20,857.16 636.52,856.79 638.84,856.42 641.15,856.07 643.47,855.72 645.78,855.37 648.10,855.04 650.41,854.70 652.73,854.38 655.04,854.06 657.36,853.74 659.67,853.43 661.99,853.13 664.30,852.83 666.62,852.53 668.94,852.24 671.25,851.96 673.57,851.68 675.88,851.40 678.20,851.13 680.51,850.87 682.83,850.61 685.14,850.35 687.46,850.10 689.77,849.85 692.09,849.61 694.41,849.37 696.72,849.13 699.04,848.90 701.35,848.67 703.67,848.45 705.98,848.23 708.30,848.01 710.61,847.80 712.93,847.59 715.24,847.39 717.56,847.18 719.88,846.99 722.19,846.79 724.51,846.60 726.82,846.41 729.14,846.23 731.45,846.04 733.77,845.86 736.08,845.69 738.40,845.51 740.71,845.34 743.03,845.18 745.35,845.01 747.66,844.85 749.98,844.69 752.29,844.54 754.61,844.38 756.92,844.23 759.24,844.08 761.55,843.94 763.87,843.79 766.18,843.65 768.50,843.51 770.82,843.38 773.13,843.24 775.45,843.11 777.76,842.98 780.08,842.85 782.39,842.73 784.71,842.60 787.02,842.48 789.34,842.36 791.65,842.25 793.97,842.13 796.28,842.02 800.90,841.80 805.51,841.59 810.13,841.38 814.74,841.18 819.36,840.99 823.97,840.80 828.58,840.62 833.20,840.45 837.81,840.28 842.43,840.12 847.04,839.96 851.66,839.81 856.27,839.66 860.88,839.52 865.50,839.38 870.11,839.25 874.73,839.12 879.34,838.99 883.96,838.87 888.57,838.76 893.18,838.64 897.80,838.53 902.41,838.43 907.03,838.33 911.64,838.23 916.26,838.13 920.87,838.04 925.48,837.95 930.10,837.86 934.71,837.78 939.33,837.70 943.94,837.62 948.56,837.55 953.17,837.47 957.78,837.40 962.40,837.33 967.01,837.27 971.63,837.20 976.24,837.14 980.86,837.08 985.47,837.02 990.08,836.97 994.70,836.91 999.31,836.86 1003.93,836.81 1008.54,836.76 1013.16,836.71 1017.77,836.67 1022.38,836.62 1027.00,836.58 1031.61,836.54 1036.23,836.50 1040.84,836.46 1045.46,836.42 1050.07,836.38 1054.68,836.35 1059.30,836.31 1063.91,836.28 1068.53,836.25 1073.14,836.22 1077.76,836.19 1082.37,836.16 1086.98,836.13 1091.60,836.10 1096.21,836.07 1100.83,836.05 1105.44,836.02 1110.06,836.00 1114.67,835.98 1119.28,835.96 1123.90,835.93 1128.51,835.91 1133.13,835.89 1137.74,835.87 1142.36,835.85 1146.97,835.83 1151.58,835.82 1156.20,835.80 1160.81,835.78 1165.43,835.77 1170.04,835.75 1174.66,835.74 1179.27,835.72 1183.88,835.71 1188.50,835.69 1193.11,835.68 1197.73,835.67 1202.34,835.65 1206.96,835.64 1211.57,835.63 1216.18,835.62 1220.80,835.61 1225.41,835.60 1230.03,835.59 1234.64,835.58 1239.26,835.57 1243.87,835.56 1248.48,835.55 1253.10,835.54 1257.71,835.53 1262.33,835.52 1266.94,835.52 1271.56,835.51 1276.17,835.50 1280.78,835.49 1285.40,835.49 1290.01,835.48 1294.63,835.47 1299.24,835.47 1303.86,835.46 1308.47,835.46 1313.08,835.45 1317.70,835.44 1322.31,835.44 1326.93,835.43 1331.54,835.43 1336.16,835.42 1340.77,835.42 1345.38,835.41 1350.00,835.41 1354.61,835.41 1359.23,835.40 1363.84,835.40 1368.46,835.39 1373.07,835.39 1377.68,835.39 1382.30,835.38 1386.91,835.38 1391.53,835.38 1396.14,835.37 1400.76,835.37 1405.37,835.37 1409.98,835.36 1414.60,835.36 1419.21,835.36 1423.83,835.36 1428.44,835.35 1433.06,835.35 1437.67,835.35 1442.28,835.35 1446.90,835.34 1451.51,835.34 1456.13,835.34 1460.74,835.34 1465.36,835.33 1469.97,835.33 1474.58,835.33 1479.20,835.33 1483.81,835.33 1488.43,835.33 1493.04,835.32 1497.66,835.32 1502.27,835.32 1506.88,835.32 1511.50,835.32 1516.11,835.32 1520.73,835.32 1525.34,835.31 1529.96,835.31 1534.57,835.31 1539.18,835.31 1543.80,835.31 1548.41,835.31 1553.03,835.31 1557.64,835.31 1562.26,835.30 1566.87,835.30 1571.48,835.30 1576.10,835.30 1580.71,835.30 1585.33,835.30 1589.94,835.30 1594.56,835.30 1599.17,835.30 1603.78,835.30 1608.40,835.30 1613.01,835.30 1617.63,835.30 1622.24,835.29 1626.86,835.29 1631.47,835.29 1636.08,835.29 1640.70,835.29 1645.31,835.29 1649.93,835.29 1654.54,835.29 1659.16,835.29 1663.77,835.29 1668.38,835.29 1673.00,835.29 1677.61,835.29 1682.23,835.29 1686.84,835.29 1691.46,835.29 1696.07,835.29 1700.68,835.29 1705.30,835.29 1709.91,835.28 1714.53,835.28 1719.14,835.28" fill="none" stroke="#ff00ff" stroke-width="8.8" stroke-linejoin="round" stroke-linecap="butt"/>

<path d="M404.07,311.59V345.23" stroke="#000000" stroke-width="7" fill="none"/><path d="M393.27,311.59H414.87M393.27,345.23H414.87" stroke="#000000" stroke-width="6.3" stroke-linecap="round" fill="none"/>
<path d="M450.21,288.88V321.78" stroke="#000000" stroke-width="7" fill="none"/><path d="M439.41,288.88H461.01M439.41,321.78H461.01" stroke="#000000" stroke-width="6.3" stroke-linecap="round" fill="none"/>
<path d="M496.36,209.63V330.56" stroke="#000000" stroke-width="7" fill="none"/><path d="M485.56,209.63H507.16M485.56,330.56H507.16" stroke="#000000" stroke-width="6.3" stroke-linecap="round" fill="none"/>
<path d="M565.57,242.06V275.70" stroke="#000000" stroke-width="7" fill="none"/><path d="M554.77,242.06H576.37M554.77,275.70H576.37" stroke="#000000" stroke-width="6.3" stroke-linecap="round" fill="none"/>
<path d="M657.86,225.23V285.05" stroke="#000000" stroke-width="7" fill="none"/><path d="M647.06,225.23H668.66M647.06,285.05H668.66" stroke="#000000" stroke-width="6.3" stroke-linecap="round" fill="none"/>
<path d="M819.36,226.07V260.65" stroke="#000000" stroke-width="7" fill="none"/><path d="M808.56,226.07H830.16M808.56,260.65H830.16" stroke="#000000" stroke-width="6.3" stroke-linecap="round" fill="none"/>
<path d="M980.86,182.06V288.97" stroke="#000000" stroke-width="7" fill="none"/><path d="M970.06,182.06H991.66M970.06,288.97H991.66" stroke="#000000" stroke-width="6.3" stroke-linecap="round" fill="none"/>
<path d="M1719.14,221.87V255.51" stroke="#000000" stroke-width="7" fill="none"/><path d="M1708.34,221.87H1729.94M1708.34,255.51H1729.94" stroke="#000000" stroke-width="6.3" stroke-linecap="round" fill="none"/>
<rect x="318.26" y="1037.66" width="33.2" height="33.64" fill="#000000"/>
<rect x="386.07" y="310.65" width="36" height="35.51401869158878" rx="3" fill="#000000"/>
<rect x="432.51" y="286.64" width="35.4" height="37.38317757009346" rx="3" fill="#000000"/>
<rect x="478.66" y="253.27" width="35.4" height="33.64485981308411" rx="3" fill="#000000"/>
<rect x="547.57" y="240.65" width="36" height="36.44859813084112" rx="3" fill="#000000"/>
<rect x="639.86" y="238.32" width="36" height="33.64485981308411" rx="3" fill="#000000"/>
<rect x="801.76" y="222.80" width="35.2" height="41.1214953271028" rx="3" fill="#000000"/>
<rect x="963.11" y="217.57" width="35.5" height="35.88785046728972" rx="3" fill="#000000"/>
<rect x="1701.89" y="222.10" width="34.5" height="33.177570093457945" rx="3" fill="#000000"/>
<polyline points="334.86,1054.79 335.43,1039.65 336.01,1025.25 336.59,1011.32 337.16,997.82 337.74,984.69 338.32,971.93 338.89,959.50 339.47,947.40 340.05,935.61 340.62,924.12 341.20,912.92 341.78,902.01 342.36,891.36 342.93,880.98 343.51,870.85 344.09,860.97 344.66,851.33 345.24,841.93 345.82,832.76 346.39,823.80 346.97,815.06 347.55,806.54 348.12,798.21 348.70,790.09 349.28,782.16 349.85,774.42 350.43,766.86 351.01,759.48 351.58,752.28 352.16,745.25 352.74,738.38 353.31,731.68 353.89,725.13 354.47,718.74 355.04,712.50 355.62,706.40 356.20,700.45 356.77,694.64 357.35,688.96 357.93,683.42 358.51,678.00 359.08,672.72 359.66,667.55 360.24,662.51 360.81,657.58 361.39,652.77 361.97,648.07 362.54,643.48 363.12,639.00 363.70,634.62 364.27,630.34 364.85,626.16 365.43,622.08 366.00,618.09 366.58,614.19 367.16,610.39 367.73,606.67 368.31,603.04 368.89,599.49 369.46,596.03 370.04,592.64 370.62,589.33 371.19,586.10 371.77,582.95 372.35,579.86 372.92,576.85 373.50,573.90 374.08,571.03 374.66,568.22 375.23,565.47 375.81,562.79 376.39,560.17 376.96,557.61 377.54,555.10 378.12,552.66 378.69,550.27 379.27,547.94 379.85,545.65 380.42,543.43 381.00,541.25 381.58,539.12 382.15,537.04 382.73,535.01 383.31,533.03 383.88,531.09 384.46,529.19 385.04,527.34 385.61,525.53 386.19,523.76 386.77,522.03 387.34,520.34 387.92,518.69 388.50,517.08 389.07,515.50 389.65,513.96 390.23,512.46 390.81,510.99 391.38,509.55 391.96,508.15 392.54,506.77 393.11,505.43 393.69,504.12 394.27,502.84 394.84,501.59 395.42,500.36 396.00,499.17 396.57,498.00 397.15,496.86 397.73,495.74 398.30,494.65 398.88,493.58 399.46,492.54 400.03,491.52 400.61,490.53 401.19,489.56 401.76,488.61 402.34,487.68 402.92,486.77 403.49,485.88 404.07,485.01 404.65,484.17 405.22,483.34 405.80,482.53 406.38,481.74 406.96,480.96 407.53,480.21 408.11,479.47 408.69,478.75 409.26,478.04 409.84,477.35 410.42,476.68 410.99,476.02 411.57,475.37 412.15,474.74 412.72,474.13 413.30,473.53 413.88,472.94 414.45,472.36 415.03,471.80 415.61,471.25 416.18,470.72 416.76,470.19 417.34,469.68 417.91,469.18 418.49,468.69 419.07,468.21 419.64,467.74 420.22,467.28 420.80,466.84 421.37,466.40 421.95,465.97 422.53,465.55 423.11,465.15 423.68,464.75 424.26,464.36 424.84,463.98 425.41,463.60 425.99,463.24 426.57,462.88 427.14,462.53 427.72,462.19 428.30,461.86 428.87,461.54 429.45,461.22 430.03,460.91 430.60,460.60 431.18,460.31 431.76,460.02 432.33,459.73 432.91,459.46 433.49,459.19 434.06,458.92 434.64,458.66 435.22,458.41 435.79,458.16 436.37,457.92 436.95,457.68 437.52,457.45 438.10,457.22 438.68,457.00 439.26,456.79 439.83,456.58 440.41,456.37 440.99,456.17 441.56,455.97 442.14,455.78 442.72,455.59 443.29,455.40 443.87,455.22 444.45,455.05 445.02,454.88 445.60,454.71 446.18,454.54 446.75,454.38 447.33,454.22 447.91,454.07 448.48,453.92 449.06,453.77 449.64,453.63 450.21,453.49 450.79,453.35 451.37,453.22 451.94,453.09 452.52,452.96 453.10,452.83 453.67,452.71 454.25,452.59 454.83,452.47 455.41,452.36 455.98,452.25 456.56,452.14 457.14,452.03 457.71,451.93 458.29,451.82 458.87,451.72 459.44,451.63 460.02,451.53 460.60,451.44 461.17,451.34 461.75,451.26 462.33,451.17 462.90,451.08 463.48,451.00 464.06,450.92 464.63,450.84 465.21,450.76 465.79,450.68 466.36,450.61 466.94,450.54 467.52,450.46 468.09,450.39 468.67,450.33 469.25,450.26 469.82,450.19 470.40,450.13 470.98,450.07 471.56,450.01 472.13,449.95 472.71,449.89 473.29,449.83 474.44,449.72 476.75,449.52 479.07,449.33 481.39,449.16 483.70,449.00 486.02,448.86 488.33,448.72 490.65,448.60 492.96,448.49 495.28,448.39 497.59,448.30 499.91,448.22 502.22,448.14 504.54,448.07 506.86,448.01 509.17,447.95 511.49,447.90 513.80,447.85 516.12,447.80 518.43,447.76 520.75,447.73 523.06,447.69 525.38,447.66 527.69,447.63 530.01,447.61 532.32,447.58 534.64,447.56 536.96,447.54 539.27,447.52 541.59,447.51 543.90,447.49 546.22,447.48 548.53,447.46 550.85,447.45 553.16,447.44 555.48,447.43 557.79,447.42 560.11,447.42 562.43,447.41 564.74,447.40 567.06,447.40 569.37,447.39 571.69,447.38 574.00,447.38 576.32,447.38 578.63,447.37 580.95,447.37 583.26,447.37 585.58,447.36 587.90,447.36 590.21,447.36 592.53,447.35 594.84,447.35 597.16,447.35 599.47,447.35 601.79,447.35 604.10,447.35 606.42,447.34 608.73,447.34 611.05,447.34 613.37,447.34 615.68,447.34 618.00,447.34 620.31,447.34 622.63,447.34 624.94,447.34 627.26,447.34 629.57,447.34 631.89,447.34 634.20,447.33 636.52,447.33 638.84,447.33 641.15,447.33 643.47,447.33 645.78,447.33 648.10,447.33 650.41,447.33 652.73,447.33 655.04,447.33 657.36,447.33 659.67,447.33 661.99,447.33 664.30,447.33 666.62,447.33 668.94,447.33 671.25,447.33 673.57,447.33 675.88,447.33 678.20,447.33 680.51,447.33 682.83,447.33 685.14,447.33 687.46,447.33 689.77,447.33 692.09,447.33 694.41,447.33 696.72,447.33 699.04,447.33 701.35,447.33 703.67,447.33 705.98,447.33 708.30,447.33 710.61,447.33 712.93,447.33 715.24,447.33 717.56,447.33 719.88,447.33 722.19,447.33 724.51,447.33 726.82,447.33 729.14,447.33 731.45,447.33 733.77,447.33 736.08,447.33 738.40,447.33 740.71,447.33 743.03,447.33 745.35,447.33 747.66,447.33 749.98,447.33 752.29,447.33 754.61,447.33 756.92,447.33 759.24,447.33 761.55,447.33 763.87,447.33 766.18,447.33 768.50,447.33 770.82,447.33 773.13,447.33 775.45,447.33 777.76,447.33 780.08,447.33 782.39,447.33 784.71,447.33 787.02,447.33 789.34,447.33 791.65,447.33 793.97,447.33 796.28,447.33 800.90,447.33 805.51,447.33 810.13,447.33 814.74,447.33 819.36,447.33 823.97,447.33 828.58,447.33 833.20,447.33 837.81,447.33 842.43,447.33 847.04,447.33 851.66,447.33 856.27,447.33 860.88,447.33 865.50,447.33 870.11,447.33 874.73,447.33 879.34,447.33 883.96,447.33 888.57,447.33 893.18,447.33 897.80,447.33 902.41,447.33 907.03,447.33 911.64,447.33 916.26,447.33 920.87,447.33 925.48,447.33 930.10,447.33 934.71,447.33 939.33,447.33 943.94,447.33 948.56,447.33 953.17,447.33 957.78,447.33 962.40,447.33 967.01,447.33 971.63,447.33 976.24,447.33 980.86,447.33 985.47,447.33 990.08,447.33 994.70,447.33 999.31,447.33 1003.93,447.33 1008.54,447.33 1013.16,447.33 1017.77,447.33 1022.38,447.33 1027.00,447.33 1031.61,447.33 1036.23,447.33 1040.84,447.33 1045.46,447.33 1050.07,447.33 1054.68,447.33 1059.30,447.33 1063.91,447.33 1068.53,447.33 1073.14,447.33 1077.76,447.33 1082.37,447.33 1086.98,447.33 1091.60,447.33 1096.21,447.33 1100.83,447.33 1105.44,447.33 1110.06,447.33 1114.67,447.33 1119.28,447.33 1123.90,447.33 1128.51,447.33 1133.13,447.33 1137.74,447.33 1142.36,447.33 1146.97,447.33 1151.58,447.33 1156.20,447.33 1160.81,447.33 1165.43,447.33 1170.04,447.33 1174.66,447.33 1179.27,447.33 1183.88,447.33 1188.50,447.33 1193.11,447.33 1197.73,447.33 1202.34,447.33 1206.96,447.33 1211.57,447.33 1216.18,447.33 1220.80,447.33 1225.41,447.33 1230.03,447.33 1234.64,447.33 1239.26,447.33 1243.87,447.33 1248.48,447.33 1253.10,447.33 1257.71,447.33 1262.33,447.33 1266.94,447.33 1271.56,447.33 1276.17,447.33 1280.78,447.33 1285.40,447.33 1290.01,447.33 1294.63,447.33 1299.24,447.33 1303.86,447.33 1308.47,447.33 1313.08,447.33 1317.70,447.33 1322.31,447.33 1326.93,447.33 1331.54,447.33 1336.16,447.33 1340.77,447.33 1345.38,447.33 1350.00,447.33 1354.61,447.33 1359.23,447.33 1363.84,447.33 1368.46,447.33 1373.07,447.33 1377.68,447.33 1382.30,447.33 1386.91,447.33 1391.53,447.33 1396.14,447.33 1400.76,447.33 1405.37,447.33 1409.98,447.33 1414.60,447.33 1419.21,447.33 1423.83,447.33 1428.44,447.33 1433.06,447.33 1437.67,447.33 1442.28,447.33 1446.90,447.33 1451.51,447.33 1456.13,447.33 1460.74,447.33 1465.36,447.33 1469.97,447.33 1474.58,447.33 1479.20,447.33 1483.81,447.33 1488.43,447.33 1493.04,447.33 1497.66,447.33 1502.27,447.33 1506.88,447.33 1511.50,447.33 1516.11,447.33 1520.73,447.33 1525.34,447.33 1529.96,447.33 1534.57,447.33 1539.18,447.33 1543.80,447.33 1548.41,447.33 1553.03,447.33 1557.64,447.33 1562.26,447.33 1566.87,447.33 1571.48,447.33 1576.10,447.33 1580.71,447.33 1585.33,447.33 1589.94,447.33 1594.56,447.33 1599.17,447.33 1603.78,447.33 1608.40,447.33 1613.01,447.33 1617.63,447.33 1622.24,447.33 1626.86,447.33 1631.47,447.33 1636.08,447.33 1640.70,447.33 1645.31,447.33 1649.93,447.33 1654.54,447.33 1659.16,447.33 1663.77,447.33 1668.38,447.33 1673.00,447.33 1677.61,447.33 1682.23,447.33 1686.84,447.33 1691.46,447.33 1696.07,447.33 1700.68,447.33 1705.30,447.33 1709.91,447.33 1714.53,447.33 1719.14,447.33" fill="none" stroke="#ff0000" stroke-width="8.8" stroke-linejoin="round" stroke-linecap="butt"/>
<polyline points="334.86,1051.36 335.43,1050.92 336.01,1050.43 336.59,1049.89 337.16,1049.29 337.74,1048.62 338.32,1047.89 338.89,1047.08 339.47,1046.19 340.05,1045.21 340.62,1044.13 341.20,1042.96 341.78,1041.67 342.36,1040.26 342.93,1038.72 343.51,1037.04 344.09,1035.22 344.66,1033.24 345.24,1031.10 345.82,1028.78 346.39,1026.27 346.97,1023.56 347.55,1020.65 348.12,1017.52 348.70,1014.16 349.28,1010.56 349.85,1006.72 350.43,1002.62 351.01,998.25 351.58,993.61 352.16,988.69 352.74,983.49 353.31,977.99 353.89,972.20 354.47,966.11 355.04,959.72 355.62,953.04 356.20,946.06 356.77,938.78 357.35,931.22 357.93,923.38 358.51,915.26 359.08,906.89 359.66,898.26 360.24,889.39 360.81,880.30 361.39,871.00 361.97,861.51 362.54,851.85 363.12,842.03 363.70,832.07 364.27,822.00 364.85,811.82 365.43,801.57 366.00,791.25 366.58,780.90 367.16,770.52 367.73,760.14 368.31,749.77 368.89,739.43 369.46,729.13 370.04,718.90 370.62,708.74 371.19,698.67 371.77,688.69 372.35,678.83 372.92,669.09 373.50,659.47 374.08,650.00 374.66,640.67 375.23,631.49 375.81,622.46 376.39,613.59 376.96,604.89 377.54,596.36 378.12,587.99 378.69,579.80 379.27,571.77 379.85,563.92 380.42,556.24 381.00,548.73 381.58,541.39 382.15,534.23 382.73,527.23 383.31,520.39 383.88,513.73 384.46,507.22 385.04,500.87 385.61,494.68 386.19,488.65 386.77,482.76 387.34,477.03 387.92,471.44 388.50,465.99 389.07,460.68 389.65,455.51 390.23,450.47 390.81,445.56 391.38,440.78 391.96,436.12 392.54,431.59 393.11,427.17 393.69,422.86 394.27,418.67 394.84,414.59 395.42,410.61 396.00,406.74 396.57,402.96 397.15,399.29 397.73,395.70 398.30,392.22 398.88,388.82 399.46,385.50 400.03,382.28 400.61,379.13 401.19,376.07 401.76,373.08 402.34,370.17 402.92,367.34 403.49,364.57 404.07,361.88 404.65,359.25 405.22,356.69 405.80,354.19 406.38,351.75 406.96,349.38 407.53,347.06 408.11,344.80 408.69,342.60 409.26,340.45 409.84,338.35 410.42,336.30 410.99,334.31 411.57,332.36 412.15,330.46 412.72,328.60 413.30,326.79 413.88,325.02 414.45,323.29 415.03,321.60 415.61,319.95 416.18,318.35 416.76,316.77 417.34,315.24 417.91,313.74 418.49,312.27 419.07,310.84 419.64,309.45 420.22,308.08 420.80,306.74 421.37,305.44 421.95,304.16 422.53,302.91 423.11,301.69 423.68,300.50 424.26,299.33 424.84,298.19 425.41,297.08 425.99,295.99 426.57,294.92 427.14,293.88 427.72,292.86 428.30,291.86 428.87,290.88 429.45,289.92 430.03,288.98 430.60,288.07 431.18,287.17 431.76,286.29 432.33,285.43 432.91,284.59 433.49,283.76 434.06,282.96 434.64,282.17 435.22,281.39 435.79,280.63 436.37,279.89 436.95,279.16 437.52,278.45 438.10,277.75 438.68,277.06 439.26,276.39 439.83,275.74 440.41,275.09 440.99,274.46 441.56,273.84 442.14,273.23 442.72,272.64 443.29,272.05 443.87,271.48 444.45,270.92 445.02,270.37 445.60,269.83 446.18,269.30 446.75,268.78 447.33,268.27 447.91,267.77 448.48,267.28 449.06,266.80 449.64,266.33 450.21,265.87 450.79,265.41 451.37,264.96 451.94,264.53 452.52,264.10 453.10,263.68 453.67,263.26 454.25,262.85 454.83,262.46 455.41,262.06 455.98,261.68 456.56,261.30 457.14,260.93 457.71,260.56 458.29,260.21 458.87,259.85 459.44,259.51 460.02,259.17 460.60,258.84 461.17,258.51 461.75,258.19 462.33,257.87 462.90,257.56 463.48,257.25 464.06,256.95 464.63,256.66 465.21,256.37 465.79,256.08 466.36,255.80 466.94,255.53 467.52,255.26 468.09,254.99 468.67,254.73 469.25,254.47 469.82,254.22 470.40,253.97 470.98,253.73 471.56,253.49 472.13,253.25 472.71,253.02 473.29,252.79 474.44,252.34 476.75,251.49 479.07,250.69 481.39,249.93 483.70,249.23 486.02,248.57 488.33,247.94 490.65,247.36 492.96,246.81 495.28,246.29 497.59,245.80 499.91,245.34 502.22,244.90 504.54,244.49 506.86,244.10 509.17,243.73 511.49,243.38 513.80,243.05 516.12,242.74 518.43,242.44 520.75,242.16 523.06,241.90 525.38,241.64 527.69,241.40 530.01,241.17 532.32,240.96 534.64,240.75 536.96,240.55 539.27,240.37 541.59,240.19 543.90,240.02 546.22,239.86 548.53,239.70 550.85,239.55 553.16,239.41 555.48,239.28 557.79,239.15 560.11,239.03 562.43,238.91 564.74,238.80 567.06,238.69 569.37,238.59 571.69,238.49 574.00,238.39 576.32,238.30 578.63,238.21 580.95,238.13 583.26,238.05 585.58,237.98 587.90,237.90 590.21,237.83 592.53,237.76 594.84,237.70 597.16,237.64 599.47,237.57 601.79,237.52 604.10,237.46 606.42,237.41 608.73,237.36 611.05,237.31 613.37,237.26 615.68,237.21 618.00,237.17 620.31,237.12 622.63,237.08 624.94,237.04 627.26,237.01 629.57,236.97 631.89,236.93 634.20,236.90 636.52,236.86 638.84,236.83 641.15,236.80 643.47,236.77 645.78,236.74 648.10,236.71 650.41,236.69 652.73,236.66 655.04,236.64 657.36,236.61 659.67,236.59 661.99,236.56 664.30,236.54 666.62,236.52 668.94,236.50 671.25,236.48 673.57,236.46 675.88,236.44 678.20,236.42 680.51,236.40 682.83,236.39 685.14,236.37 687.46,236.35 689.77,236.34 692.09,236.32 694.41,236.31 696.72,236.29 699.04,236.28 701.35,236.27 703.67,236.25 705.98,236.24 708.30,236.23 710.61,236.22 712.93,236.20 715.24,236.19 717.56,236.18 719.88,236.17 722.19,236.16 724.51,236.15 726.82,236.14 729.14,236.13 731.45,236.12 733.77,236.11 736.08,236.10 738.40,236.09 740.71,236.09 743.03,236.08 745.35,236.07 747.66,236.06 749.98,236.05 752.29,236.05 754.61,236.04 756.92,236.03 759.24,236.03 761.55,236.02 763.87,236.01 766.18,236.01 768.50,236.00 770.82,235.99 773.13,235.99 775.45,235.98 777.76,235.98 780.08,235.97 782.39,235.97 784.71,235.96 787.02,235.96 789.34,235.95 791.65,235.95 793.97,235.94 796.28,235.94 800.90,235.93 805.51,235.92 810.13,235.91 814.74,235.90 819.36,235.90 823.97,235.89 828.58,235.88 833.20,235.88 837.81,235.87 842.43,235.87 847.04,235.86 851.66,235.85 856.27,235.85 860.88,235.84 865.50,235.84 870.11,235.83 874.73,235.83 879.34,235.83 883.96,235.82 888.57,235.82 893.18,235.81 897.80,235.81 902.41,235.81 907.03,235.80 911.64,235.80 916.26,235.80 920.87,235.80 925.48,235.79 930.10,235.79 934.71,235.79 939.33,235.78 943.94,235.78 948.56,235.78 953.17,235.78 957.78,235.78 962.40,235.77 967.01,235.77 971.63,235.77 976.24,235.77 980.86,235.77 985.47,235.76 990.08,235.76 994.70,235.76 999.31,235.76 1003.93,235.76 1008.54,235.76 1013.16,235.75 1017.77,235.75 1022.38,235.75 1027.00,235.75 1031.61,235.75 1036.23,235.75 1040.84,235.75 1045.46,235.75 1050.07,235.74 1054.68,235.74 1059.30,235.74 1063.91,235.74 1068.53,235.74 1073.14,235.74 1077.76,235.74 1082.37,235.74 1086.98,235.74 1091.60,235.74 1096.21,235.74 1100.83,235.73 1105.44,235.73 1110.06,235.73 1114.67,235.73 1119.28,235.73 1123.90,235.73 1128.51,235.73 1133.13,235.73 1137.74,235.73 1142.36,235.73 1146.97,235.73 1151.58,235.73 1156.20,235.73 1160.81,235.73 1165.43,235.73 1170.04,235.73 1174.66,235.72 1179.27,235.72 1183.88,235.72 1188.50,235.72 1193.11,235.72 1197.73,235.72 1202.34,235.72 1206.96,235.72 1211.57,235.72 1216.18,235.72 1220.80,235.72 1225.41,235.72 1230.03,235.72 1234.64,235.72 1239.26,235.72 1243.87,235.72 1248.48,235.72 1253.10,235.72 1257.71,235.72 1262.33,235.72 1266.94,235.72 1271.56,235.72 1276.17,235.72 1280.78,235.72 1285.40,235.72 1290.01,235.72 1294.63,235.72 1299.24,235.72 1303.86,235.71 1308.47,235.71 1313.08,235.71 1317.70,235.71 1322.31,235.71 1326.93,235.71 1331.54,235.71 1336.16,235.71 1340.77,235.71 1345.38,235.71 1350.00,235.71 1354.61,235.71 1359.23,235.71 1363.84,235.71 1368.46,235.71 1373.07,235.71 1377.68,235.71 1382.30,235.71 1386.91,235.71 1391.53,235.71 1396.14,235.71 1400.76,235.71 1405.37,235.71 1409.98,235.71 1414.60,235.71 1419.21,235.71 1423.83,235.71 1428.44,235.71 1433.06,235.71 1437.67,235.71 1442.28,235.71 1446.90,235.71 1451.51,235.71 1456.13,235.71 1460.74,235.71 1465.36,235.71 1469.97,235.71 1474.58,235.71 1479.20,235.71 1483.81,235.71 1488.43,235.71 1493.04,235.71 1497.66,235.71 1502.27,235.71 1506.88,235.71 1511.50,235.71 1516.11,235.71 1520.73,235.71 1525.34,235.71 1529.96,235.71 1534.57,235.71 1539.18,235.71 1543.80,235.71 1548.41,235.71 1553.03,235.71 1557.64,235.71 1562.26,235.71 1566.87,235.71 1571.48,235.71 1576.10,235.71 1580.71,235.71 1585.33,235.71 1589.94,235.71 1594.56,235.71 1599.17,235.71 1603.78,235.71 1608.40,235.71 1613.01,235.71 1617.63,235.71 1622.24,235.71 1626.86,235.71 1631.47,235.71 1636.08,235.71 1640.70,235.71 1645.31,235.71 1649.93,235.71 1654.54,235.71 1659.16,235.71 1663.77,235.71 1668.38,235.71 1673.00,235.71 1677.61,235.71 1682.23,235.71 1686.84,235.71 1691.46,235.71 1696.07,235.71 1700.68,235.71 1705.30,235.71 1709.91,235.71 1714.53,235.71 1719.14,235.71" fill="none" stroke="#000000" stroke-width="8.8" stroke-linejoin="round" stroke-linecap="butt"/>
</g>
<text transform="translate(334.86,1325.2) scale(1,1.065)" text-anchor="middle" font-size="80.5" font-family="'Liberation Serif', 'Times New Roman', serif" font-weight="bold">0</text>
<text transform="translate(565.57,1325.2) scale(1,1.065)" text-anchor="middle" font-size="80.5" font-family="'Liberation Serif', 'Times New Roman', serif" font-weight="bold">10</text>
<text transform="translate(796.28,1325.2) scale(1,1.065)" text-anchor="middle" font-size="80.5" font-family="'Liberation Serif', 'Times New Roman', serif" font-weight="bold">20</text>
<text transform="translate(1027.00,1325.2) scale(1,1.065)" text-anchor="middle" font-size="80.5" font-family="'Liberation Serif', 'Times New Roman', serif" font-weight="bold">30</text>
<text transform="translate(1257.71,1325.2) scale(1,1.065)" text-anchor="middle" font-size="80.5" font-family="'Liberation Serif', 'Times New Roman', serif" font-weight="bold">40</text>
<text transform="translate(1488.43,1325.2) scale(1,1.065)" text-anchor="middle" font-size="80.5" font-family="'Liberation Serif', 'Times New Roman', serif" font-weight="bold">50</text>
<text transform="translate(1719.14,1325.2) scale(1,1.065)" text-anchor="middle" font-size="80.5" font-family="'Liberation Serif', 'Times New Roman', serif" font-weight="bold">60</text>
<text transform="translate(197.2,1152.22) scale(1,1.065)" text-anchor="end" font-size="80.5" font-family="'Liberation Serif', 'Times New Roman', serif" font-weight="bold">0</text>
<text transform="translate(197.2,943.50) scale(1,1.065)" text-anchor="end" font-size="80.5" font-family="'Liberation Serif', 'Times New Roman', serif" font-weight="bold">5</text>
<text transform="translate(197.2,734.77) scale(1,1.065)" text-anchor="end" font-size="80.5" font-family="'Liberation Serif', 'Times New Roman', serif" font-weight="bold">10</text>
<text transform="translate(197.2,526.05) scale(1,1.065)" text-anchor="end" font-size="80.5" font-family="'Liberation Serif', 'Times New Roman', serif" font-weight="bold">15</text>
<text transform="translate(197.2,317.33) scale(1,1.065)" text-anchor="end" font-size="80.5" font-family="'Liberation Serif', 'Times New Roman', serif" font-weight="bold">20</text>
<text transform="translate(197.2,108.60) scale(1,1.065)" text-anchor="end" font-size="80.5" font-family="'Liberation Serif', 'Times New Roman', serif" font-weight="bold">25</text>
<text transform="translate(825.3,1414) scale(1,1.076)" font-size="87" font-family="'Liberation Serif', 'Times New Roman', serif" font-weight="bold">Time (day)</text>
<text transform="translate(82.4,875.6) rotate(-90)" font-size="94.7" font-family="'Liberation Serif', 'Times New Roman', serif" font-weight="bold" font-style="italic">R</text>
<text transform="translate(117,810.2) rotate(-90)" font-size="57" font-family="'Liberation Serif', 'Times New Roman', serif" font-weight="bold">C</text>
<text transform="translate(82.4,755.3) rotate(-90) scale(1.03,1)" font-size="94.7" font-family="'Liberation Serif', 'Times New Roman', serif" font-weight="bold">(</text>
<text transform="translate(82.4,723.0) rotate(-90) scale(0.947,1)" font-size="94.7" font-family="'Liberation Serif', 'Times New Roman', serif" font-weight="bold">M</text>
<text transform="translate(82.4,633.5) rotate(-90) scale(0.953,1)" font-size="94.7" font-family="'Liberation Serif', 'Times New Roman', serif" font-weight="bold">P</text>
<text transform="translate(82.4,576.1) rotate(-90) scale(0.893,1)" font-size="94.7" font-family="'Liberation Serif', 'Times New Roman', serif" font-weight="bold">a</text>
<text transform="translate(82.4,529.7) rotate(-90) scale(1.016,1)" font-size="94.7" font-family="'Liberation Serif', 'Times New Roman', serif" font-weight="bold">)</text>
<g transform="scale(1,1.07)"><rect x="534.80" y="559.16" width="33.2" height="33.45794392523364" rx="3" fill="#000000"/></g>
<text transform="translate(621.90,637.80) scale(1.055,1.05)" font-size="65" font-family="'Liberation Serif', 'Times New Roman', serif" font-weight="bold" font-style="italic">R</text>
<text transform="translate(664.60,664.80) scale(1,1.07)" font-size="38.5" font-family="'Liberation Serif', 'Times New Roman', serif" font-weight="bold">W/S</text>
<text transform="translate(731.00,638.20) scale(1.135,1.071)" font-size="65" font-family="'Liberation Serif', 'Times New Roman', serif" font-weight="bold">=</text>
<text transform="translate(769.60,638.20) scale(1,1.071)" font-size="65" font-family="'Liberation Serif', 'Times New Roman', serif" font-weight="bold">0.90</text>
<g transform="scale(1,1.07)"><circle cx="952.40" cy="575.89" r="18.8" fill="#ff0000"/></g>
<text transform="translate(1022.40,637.80) scale(1.055,1.05)" font-size="65" font-family="'Liberation Serif', 'Times New Roman', serif" font-weight="bold" font-style="italic">R</text>
<text transform="translate(1065.10,664.80) scale(1,1.07)" font-size="38.5" font-family="'Liberation Serif', 'Times New Roman', serif" font-weight="bold">W/S</text>
<text transform="translate(1131.50,638.20) scale(1.135,1.071)" font-size="65" font-family="'Liberation Serif', 'Times New Roman', serif" font-weight="bold">=</text>
<text transform="translate(1170.10,638.20) scale(1,1.071)" font-size="65" font-family="'Liberation Serif', 'Times New Roman', serif" font-weight="bold">1.05</text>
<g transform="scale(1,1.07)"><polygon points="1353.00,549.62 1375.75,589.02 1330.25,589.02" fill="#0000ff" stroke="#0000ff" stroke-width="0.8" stroke-linejoin="round"/></g>
<text transform="translate(1422.70,637.80) scale(1.055,1.05)" font-size="65" font-family="'Liberation Serif', 'Times New Roman', serif" font-weight="bold" font-style="italic">R</text>
<text transform="translate(1465.40,664.80) scale(1,1.07)" font-size="38.5" font-family="'Liberation Serif', 'Times New Roman', serif" font-weight="bold">W/S</text>
<text transform="translate(1531.80,638.20) scale(1.135,1.071)" font-size="65" font-family="'Liberation Serif', 'Times New Roman', serif" font-weight="bold">=</text>
<text transform="translate(1570.40,638.20) scale(1,1.071)" font-size="65" font-family="'Liberation Serif', 'Times New Roman', serif" font-weight="bold">1.20</text>
<g transform="scale(1,1.07)"><polygon points="551.40,702.90 574.15,663.50 528.65,663.50" fill="#ff00ff" stroke="#ff00ff" stroke-width="0.8" stroke-linejoin="round"/></g>
<text transform="translate(621.90,745.40) scale(1.055,1.05)" font-size="65" font-family="'Liberation Serif', 'Times New Roman', serif" font-weight="bold" font-style="italic">R</text>
<text transform="translate(664.60,772.40) scale(1,1.07)" font-size="38.5" font-family="'Liberation Serif', 'Times New Roman', serif" font-weight="bold">W/S</text>
<text transform="translate(731.00,745.80) scale(1.135,1.071)" font-size="65" font-family="'Liberation Serif', 'Times New Roman', serif" font-weight="bold">=</text>
<text transform="translate(769.60,745.80) scale(1,1.071)" font-size="65" font-family="'Liberation Serif', 'Times New Roman', serif" font-weight="bold">1.38</text>
<g transform="scale(1,1.07)"><polygon points="952.40,653.04 976.40,676.64 952.40,700.24 928.40,676.64" fill="#008000"/></g>
<text transform="translate(1022.40,745.40) scale(1.055,1.05)" font-size="65" font-family="'Liberation Serif', 'Times New Roman', serif" font-weight="bold" font-style="italic">R</text>
<text transform="translate(1065.10,772.40) scale(1,1.07)" font-size="38.5" font-family="'Liberation Serif', 'Times New Roman', serif" font-weight="bold">W/S</text>
<text transform="translate(1131.50,745.80) scale(1.135,1.071)" font-size="65" font-family="'Liberation Serif', 'Times New Roman', serif" font-weight="bold">=</text>
<text transform="translate(1170.10,745.80) scale(1,1.071)" font-size="65" font-family="'Liberation Serif', 'Times New Roman', serif" font-weight="bold">1.50</text>
</svg>
</body></html>
